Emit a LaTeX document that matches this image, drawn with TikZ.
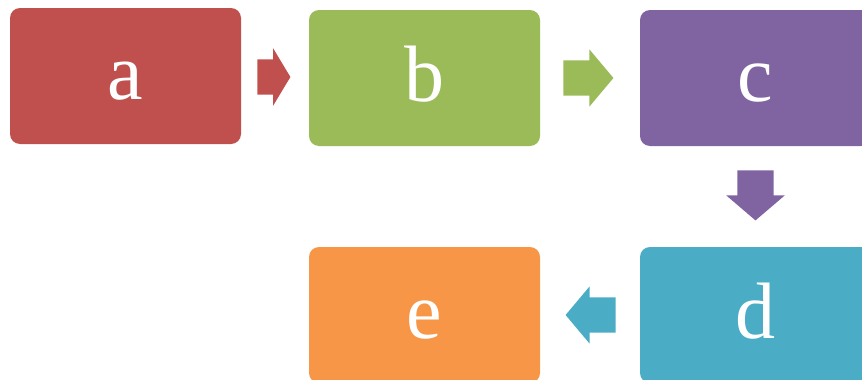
\documentclass[tikz,border=0pt]{standalone}
\usepackage{fontspec}
\setmainfont{Liberation Serif}
\usepackage{tikz}
\usetikzlibrary{shapes.arrows,calc}

\definecolor{cred}{HTML}{C0504D}
\definecolor{cgreen}{HTML}{9BBB59}
\definecolor{cpurple}{HTML}{8064A2}
\definecolor{cteal}{HTML}{4BACC6}
\definecolor{corange}{HTML}{F79646}

\tikzset{
	box/.style={rounded corners=10pt, minimum width=231pt, minimum height=136pt,
		inner sep=0pt, text=white, font=\fontsize{80}{80}\selectfont,
		text height=46pt, text depth=0pt},
	flow/.style={single arrow, draw=none, inner xsep=0pt, inner ysep=17.5pt,
		minimum width=57pt, single arrow head extend=11pt, anchor=tail},
}

\begin{document}
\begin{tikzpicture}[x=1pt, y=-1pt]
	\useasboundingbox (0,0) rectangle (862,380);
	\clip (0,0) rectangle (862,380);
	
	% Boxes
	\node[box, fill=cred] (a) at (125.5, 76) {a};
	\node[box, fill=cgreen] (b) at (424.5, 78) {b};
	\node[box, fill=cpurple] (c) at (755.5, 78) {c};
	\node[box, fill=cteal] (d) at (755.5, 315) {d};
	\node[box, fill=corange] (e) at (424.5, 315) {e};
	
	% Block arrows
	\node[flow, fill=cred, minimum height=33pt, single arrow tip angle=118] (ab) at ($(a.east)+(16,1)$) {};
	\node[flow, fill=cgreen, minimum height=50pt, single arrow tip angle=100] (bc) at ($(b.east)+(23,0)$) {};
	\node[flow, fill=cpurple, minimum height=50pt, single arrow tip angle=99, shape border rotate=270,
		inner xsep=18pt, inner ysep=0pt] (cd) at ($(c.south)+(0,24)$) {}; % down
	\node[flow, fill=cteal, minimum height=50pt, single arrow tip angle=100, shape border rotate=180] (de) at ($(d.west)+(-24,0)$) {};
\end{tikzpicture}
\end{document}
